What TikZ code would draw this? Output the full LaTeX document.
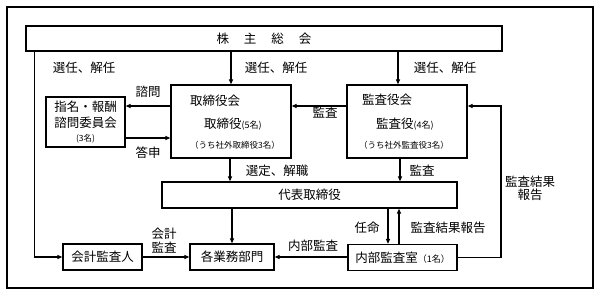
\documentclass[tikz,border=0pt]{standalone}
\usepackage{fontspec}
\setmainfont{Noto Sans CJK JP}
\usetikzlibrary{arrows.meta}
\begin{document}
\begin{tikzpicture}[x=1pt,y=-1pt,
  font=\fontsize{12.5}{14}\selectfont,
  box/.style={draw,line width=1.2pt,rectangle,inner sep=0pt,minimum width=#1},
  arr/.style={line width=1.2pt,-{Triangle[length=5pt,width=4pt]}},
  ln/.style={line width=1.2pt},
  lbl/.style={inner sep=0pt},
  sm/.style={font=\fontsize{8.5}{10}\selectfont}]
\useasboundingbox (0,0) rectangle (600,296);
\draw[ln] (7,7) rectangle (593,288);
% nodes
\node[box=476,minimum height=25] (sh) at (264,38.5) {株\hspace{1.2em}主\hspace{1.2em}総\hspace{1.2em}会};
\node[box=120,minimum height=73] (tb) at (231,121.5) {};
\node[box=120,minimum height=73] (kb) at (407,121.5) {};
\node[box=79,minimum height=50,align=center] (sm) at (85.5,122) {指名・報酬\\[2pt]諮問委員会\\[0pt]{\fontsize{8.5}{10}\selectfont (3名)}};
\node[box=295,minimum height=26] (dh) at (309.5,195) {代表取締役};
\node[box=84,minimum height=26] (kg) at (232,257) {各業務部門};
\node[box=79,minimum height=26] (ka) at (102.5,257) {会計監査人};
\node[box=109,minimum height=26] (nb) at (402.5,257.5) {内部監査室{\fontsize{9}{10}\selectfont （1名）}};
% texts inside boards
\node[lbl,anchor=west] (tb1) at (190,101) {取締役会};
\node[lbl,anchor=west] (tb2) at (204,124) {取締役{\fontsize{9}{10}\selectfont (5名)}};
\node[lbl,anchor=west,sm] (tb3) at (190,145) {（うち社外取締役3名）};
\node[lbl,anchor=west] (kb1) at (362,100) {監査役会};
\node[lbl,anchor=west] (kb2) at (376,124) {監査役{\fontsize{9}{10}\selectfont (4名)}};
\node[lbl,anchor=west,sm] (kb3) at (359,145) {（うち社外監査役3名）};
% connectors
\coordinate (rc) at (501,0);
\coordinate (k1) at ([yshift=15.5pt]kb.east);
\draw[arr] ([xshift=9pt]sh.south west) |- (ka.west);
\draw[arr] (sh.south -| tb.north) -- (tb.north);
\draw[arr] ([xshift=-9pt]sh.south -| kb.north) -- ([xshift=-9pt]kb.north);
\draw[arr] ([yshift=15.5pt]tb.west) -- ([yshift=15.5pt]tb.west -| sm.east);
\draw[arr] ([yshift=-16pt]sm.east) -- ([yshift=-16pt]sm.east -| tb.west);
\draw[arr] ([yshift=15.5pt]kb.west) -- ([yshift=15.5pt]kb.west -| tb.east);
\draw[arr] ([xshift=-1pt]tb.south) -- ([xshift=-1pt]tb.south |- dh.north);
\draw[arr] ([xshift=-7pt]kb.south) -- ([xshift=-7pt]kb.south |- dh.north);
\draw[arr] (kg.north |- dh.south) -- (kg.north);
\draw[arr] (ka.east) -- (kg.west);
\draw[arr] (kg.east -| nb.west) -- (kg.east);
\draw[arr] ([xshift=-14.5pt]nb.north |- dh.south) -- ([xshift=-14.5pt]nb.north);
\draw[arr] ([xshift=-3.5pt]nb.north) -- ([xshift=-3.5pt]nb.north |- dh.south);
\draw[arr] (nb.east) -| (k1 -| rc) -- (k1);
% labels
\node[lbl] (l1) at (84,68) {選任、解任};
\node[lbl] (l2) at (276,68) {選任、解任};
\node[lbl] (l3) at (445,68) {選任、解任};
\node[lbl] (l4) at (148,92) {諮問};
\node[lbl] (l5) at (148,153) {答申};
\node[lbl] (l6) at (325,113) {監査};
\node[lbl] (l7) at (277,171) {選定、解職};
\node[lbl] (l8) at (422,171) {監査};
\node[lbl,align=center] (l9) at (530,188) {監査結果\\[-1pt]報告};
\node[lbl,align=center] (l10) at (164,241) {会計\\[0pt]監査};
\node[lbl] (l11) at (313,246) {内部監査};
\node[lbl] (l12) at (367,228) {任命};
\node[lbl] (l13) at (448,228) {監査結果報告};
\end{tikzpicture}
\end{document}
